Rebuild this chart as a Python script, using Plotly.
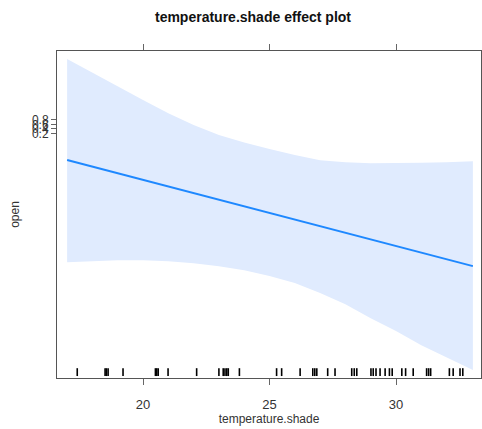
import numpy as np
import plotly.graph_objects as go

# Fitted effect (logit scale) at the ends of the temperature.shade range
line_x = [17.0, 33.04]
line_logit = [-6.57, -27.56]

# Confidence band (logit scale)
band_x = [17, 18, 19, 20, 21, 22, 23, 24, 25, 26, 27, 28, 29, 30, 31, 32, 33.04]
band_upper = [13.4, 10.65, 7.9, 5.3, 2.7, 0.35, -1.6, -3.1, -4.4, -5.6, -6.6, -7.0, -7.2, -7.2, -7.1, -7.0, -6.8]
band_lower = [-26.8, -26.6, -26.4, -26.4, -26.6, -27.0, -27.6, -28.4, -29.5, -30.9, -32.9, -35.1, -37.9, -40.4, -43.2, -45.6, -48.1]

# Rug of observed temperature.shade values
rug_x = [17.40, 18.50, 18.55, 18.62, 19.21, 20.49, 20.54, 20.60, 20.99, 22.12,
         23.00, 23.17, 23.24, 23.31, 23.37, 23.81, 25.28, 25.48, 26.21, 26.71,
         26.79, 26.87, 27.30, 27.59, 28.25, 28.35, 28.45, 29.01, 29.10, 29.21,
         29.37, 29.57, 29.74, 29.85, 30.23, 30.38, 30.68, 31.21, 31.29, 31.37,
         32.11, 32.26, 32.53, 32.64]

x_ticks = [20, 25, 30]
y_tick_probs = [0.2, 0.4, 0.6, 0.8]
y_tick_vals = [float(np.log(p / (1 - p))) for p in y_tick_probs]
y_tick_text = [str(p) for p in y_tick_probs]

fig = go.Figure()
fig.add_trace(go.Scatter(
    x=band_x + band_x[::-1], y=band_upper + band_lower[::-1],
    fill="toself", fillcolor="#E0EBFE", line=dict(width=0),
    mode="lines", hoverinfo="skip", showlegend=False))
fig.add_trace(go.Scatter(
    x=line_x, y=line_logit, mode="lines",
    line=dict(color="#1E88FF", width=2), showlegend=False))

for rx in rug_x:
    fig.add_shape(type="line", xref="x", yref="paper",
                  x0=rx, x1=rx, y0=0.006, y1=0.03,
                  line=dict(color="black", width=1.6))

font = "Liberation Sans, Arial, sans-serif"
fig.update_layout(
    width=482, height=429,
    margin=dict(l=57, r=1, t=51, b=51),
    plot_bgcolor="white", paper_bgcolor="white",
    font=dict(family=font, size=12, color="#333"),
    title=dict(text="<b>temperature.shade effect plot</b>", x=253/482, xanchor="center",
               y=1 - 17/429, yanchor="middle",
               font=dict(family=font, size=14, color="#111")),
    xaxis=dict(range=[16.6, 33.36], tickvals=x_ticks, ticks="outside", ticklen=6,
               tickcolor="#666", showline=True, linecolor="#555", linewidth=1,
               mirror="ticks", showgrid=False, zeroline=False,
               ticklabelstandoff=8,
               title=dict(text="temperature.shade", standoff=0, font=dict(size=12)),
               tickfont=dict(size=13, color="#333")),
    yaxis=dict(range=[-49.7, 15.0], tickvals=y_tick_vals, ticktext=y_tick_text,
               ticks="outside", ticklen=5, tickcolor="#666", showline=True,
               linecolor="#555", linewidth=1, mirror=True, showgrid=False,
               zeroline=False, tickfont=dict(size=12, color="#333"),
               title=dict(text="open", standoff=9, font=dict(size=12))),
)

fig.write_html("out.html")
